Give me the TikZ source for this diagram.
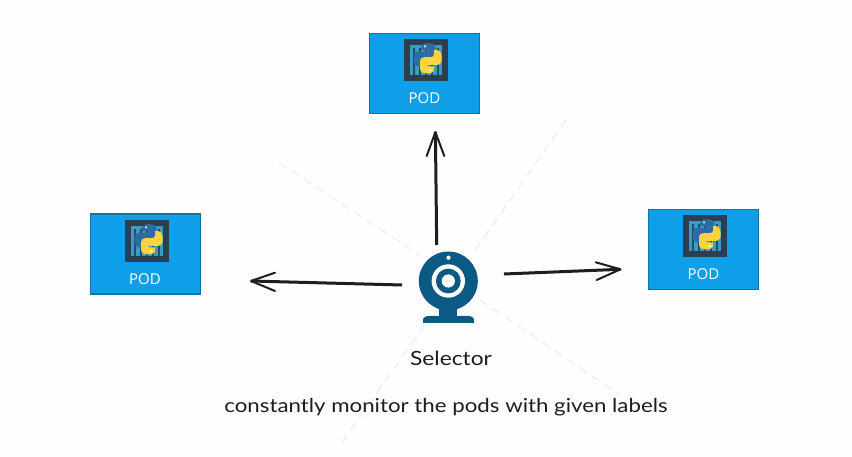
\documentclass[tikz,border=0pt]{standalone}
\usepackage{fontspec}
\setmainfont{Open Sans}
\newfontfamily\handfont[FakeStretch=1.16]{Lato}
\definecolor{podblue}{HTML}{0F9EE8}
\definecolor{podedge}{HTML}{1273A8}
\definecolor{icondark}{HTML}{2C3E50}
\definecolor{iconblue}{HTML}{3A9CC0}
\definecolor{iconbar}{HTML}{1F4E6B}
\definecolor{pyblue}{HTML}{2F6CA3}
\definecolor{pyyellow}{HTML}{FFD23F}
\definecolor{camblue}{HTML}{0B5A85}
\definecolor{ink}{HTML}{1E1E1E}
\definecolor{ghost}{HTML}{E4EEF6}
\definecolor{paper}{HTML}{FEFEFE}
\tikzset{
  podbox/.style={draw=podedge,line width=1.8pt,fill=podblue,minimum width=110pt,minimum height=80pt,inner sep=0pt},
  podlabel/.style={text=white,font=\fontsize{15}{17}\selectfont,inner sep=0pt},
  conn/.style={ink,line width=3pt},
  connhead/.style={ink,line width=2pt,line cap=round,line join=round},
  ghostline/.style={ghost,line width=1.1pt,dash pattern=on 9pt off 6pt},
  handtext/.style={text=ink,inner sep=0pt},
  pod icon/.pic={
    \fill[icondark] (-22,-21) rectangle (22,21);
    \fill[iconblue] (-16,-15) rectangle (16,15);
    \foreach \bx in {-12,-6,0,6,12} \fill[iconbar] (\bx-.7,-12) rectangle (\bx+.7,15);
    \begin{scope}[shift={(1.7,-1.7)},scale=1.08]
      \foreach \rot/\col in {0/pyblue,180/pyyellow}{
        \begin{scope}[rotate=\rot]
          \fill[\col] (-6,-10) .. controls (-6,-13) and (-3,-14) .. (0,-14)
            .. controls (4,-14) and (7,-13) .. (7,-10) -- (7,-2)
            .. controls (7,0) and (5,1) .. (3,1) -- (-3,1)
            .. controls (-5,1) and (-6,2.5) .. (-6,4) -- (-6,7.5) -- (-9,7.5)
            .. controls (-12,7.5) and (-13,3) .. (-13,0)
            .. controls (-13,-3) and (-12,-6) .. (-9,-6) -- (0,-6) -- (0,-7.5) -- (-6,-7.5) -- cycle;
          \fill[white!85!\col] (-2.5,-11) circle (1.1);
        \end{scope}
      }
    \end{scope}
  }
}
\begin{document}
\begin{tikzpicture}[x=1pt,y=-1pt]
\useasboundingbox (0,0) rectangle (852,457);
\fill[paper] (0,0) rectangle (852,457);

% faint dashed rays behind the camera
\coordinate (r1a) at (279,163); \coordinate (r1b) at (420,255);
\coordinate (r2a) at (566,120); \coordinate (r2b) at (475,250);
\coordinate (r3a) at (480,300); \coordinate (r3b) at (620,395);
\coordinate (r4a) at (425,325); \coordinate (r4b) at (340,445);
\draw[ghostline] (r1a) -- (r1b);
\draw[ghostline] (r2a) -- (r2b);
\draw[ghostline] (r3a) -- (r3b);
\draw[ghostline] (r4a) -- (r4b);

% pods
\node[podbox] (podtop) at (424.5,73.5) {};
\node[podbox] (podleft) at (145.5,254) {};
\node[podbox] (podright) at (703.5,249.5) {};
\node[podlabel] (labtop) at (424.5,98) {POD};
\node[podlabel] (lableft) at (145,279) {POD};
\node[podlabel] (labright) at (703.5,274) {POD};
\pic at (426,60) {pod icon};
\pic at (147,241) {pod icon};
\pic at (705,236) {pod icon};

% camera
\node[circle,fill=camblue,minimum size=59pt,inner sep=0pt] (cam) at (448.3,281) {};
\fill[white] (cam.center) circle (16.7);
\fill[camblue] (cam.center) circle (12.4);
\fill[white] (cam.center) circle (6.6);
\fill[white] (448.5,257.7) circle (2.1);
\fill[camblue] (439,305) rectangle (457,318);
\fill[camblue] (423,323) -- (423,320) .. controls (423,317) and (426,316) .. (430,316)
  -- (467,316) .. controls (471,316) and (474,317) .. (474,320) -- (474,323) -- cycle;

% connectors
\coordinate (upS) at (436.7,245); \coordinate (upE) at (435.4,132);
\coordinate (upA) at (426.7,156); \coordinate (upB) at (444.3,156);
\coordinate (leftS) at (402,285); \coordinate (leftE) at (251,281);
\coordinate (leftA) at (275,272.7); \coordinate (leftB) at (275,291);
\coordinate (rightS) at (504,274); \coordinate (rightE) at (620.5,269.3);
\coordinate (rightA) at (595.7,262.3); \coordinate (rightB) at (596.7,280);
\draw[conn] (upS) -- (upE);
\draw[connhead] (upA) -- (upE) -- (upB);
\draw[conn] (leftS) -- (leftE);
\draw[connhead] (leftA) -- (leftE) -- (leftB);
\draw[conn] (rightS) -- (rightE);
\draw[connhead] (rightA) -- (rightE) -- (rightB);

% texts
\node[handtext,font=\handfont\fontsize{19.6}{24}\selectfont] (sel) at (451,358) {Selector};
\node[handtext,font=\handfont\fontsize{19.2}{23}\selectfont] (cap) at (446,407) {constantly monitor the pods with given labels};
\end{tikzpicture}
\end{document}
